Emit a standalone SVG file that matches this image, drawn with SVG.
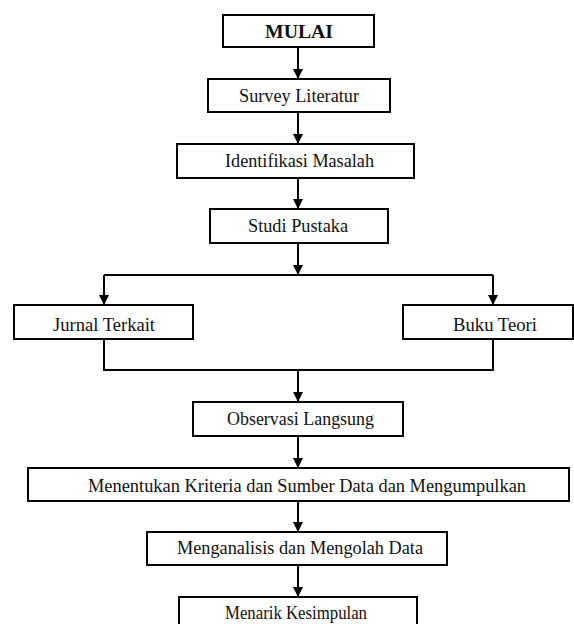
<svg xmlns="http://www.w3.org/2000/svg" width="574" height="624" viewBox="0 0 574 624">
<style>
.box{fill:#fff;stroke:#000;stroke-width:2}
.t{font-family:"Liberation Serif","Times New Roman",serif;font-size:19px;fill:#111;text-anchor:middle}
.b{font-weight:bold;font-size:19px}
.c{fill:none;stroke:#000;stroke-width:2}
</style>
<defs>
<marker id="ah" markerUnits="userSpaceOnUse" markerWidth="10" markerHeight="10" refX="10" refY="5" orient="auto" viewBox="0 0 10 10">
<path d="M0,0 L10,5 L0,10 Z" fill="#000"/>
</marker>
</defs>
<rect width="574" height="624" fill="#fff"/>
<g id="connectors">
<line class="c" x1="298" y1="47" x2="298" y2="79" marker-end="url(#ah)"/>
<line class="c" x1="298" y1="112" x2="298" y2="144" marker-end="url(#ah)"/>
<line class="c" x1="298" y1="178" x2="298" y2="209" marker-end="url(#ah)"/>
<line class="c" x1="298" y1="243" x2="298" y2="275" marker-end="url(#ah)"/>
<polyline class="c" points="104,275 493,275"/>
<line class="c" x1="104" y1="275" x2="104" y2="305" marker-end="url(#ah)"/>
<line class="c" x1="493" y1="275" x2="493" y2="305" marker-end="url(#ah)"/>
<polyline class="c" points="104,339 104,370 493,370 493,339"/>
<line class="c" x1="298" y1="370" x2="298" y2="402" marker-end="url(#ah)"/>
<line class="c" x1="298" y1="436" x2="298" y2="468" marker-end="url(#ah)"/>
<line class="c" x1="298" y1="501" x2="298" y2="532" marker-end="url(#ah)"/>
<line class="c" x1="298" y1="565" x2="298" y2="597" marker-end="url(#ah)"/>
</g>
<g id="mulai"><rect class="box" x="223" y="15" width="151" height="32"/><text class="t b" x="299" y="38" textLength="68" lengthAdjust="spacingAndGlyphs">MULAI</text></g>
<g id="survey"><rect class="box" x="208" y="79" width="182" height="33"/><text class="t" x="299" y="102" textLength="120" lengthAdjust="spacingAndGlyphs">Survey Literatur</text></g>
<g id="identifikasi"><rect class="box" x="177" y="144" width="237" height="34"/><text class="t" x="299.5" y="167" textLength="149" lengthAdjust="spacingAndGlyphs">Identifikasi Masalah</text></g>
<g id="studi"><rect class="box" x="210" y="209" width="178" height="34"/><text class="t" x="298" y="232" textLength="100" lengthAdjust="spacingAndGlyphs">Studi Pustaka</text></g>
<g id="jurnal"><rect class="box" x="14" y="305" width="179" height="34"/><text class="t" x="104" y="331" textLength="102" lengthAdjust="spacingAndGlyphs">Jurnal Terkait</text></g>
<g id="buku"><rect class="box" x="403" y="305" width="170" height="34"/><text class="t" x="495" y="331" textLength="84" lengthAdjust="spacingAndGlyphs">Buku Teori</text></g>
<g id="observasi"><rect class="box" x="193" y="402" width="210" height="34"/><text class="t" x="300.5" y="425" textLength="147" lengthAdjust="spacingAndGlyphs">Observasi Langsung</text></g>
<g id="menentukan"><rect class="box" x="28" y="468" width="541" height="33"/><text class="t" x="307" y="492" textLength="438" lengthAdjust="spacingAndGlyphs">Menentukan Kriteria dan Sumber Data dan  Mengumpulkan</text></g>
<g id="menganalisis"><rect class="box" x="147" y="532" width="300" height="33"/><text class="t" x="300" y="554" textLength="246" lengthAdjust="spacingAndGlyphs">Menganalisis  dan Mengolah Data</text></g>
<g id="menarik"><rect class="box" x="179" y="597" width="238" height="40"/><text class="t" x="296" y="619" textLength="142" lengthAdjust="spacingAndGlyphs">Menarik Kesimpulan</text></g>
</svg>
